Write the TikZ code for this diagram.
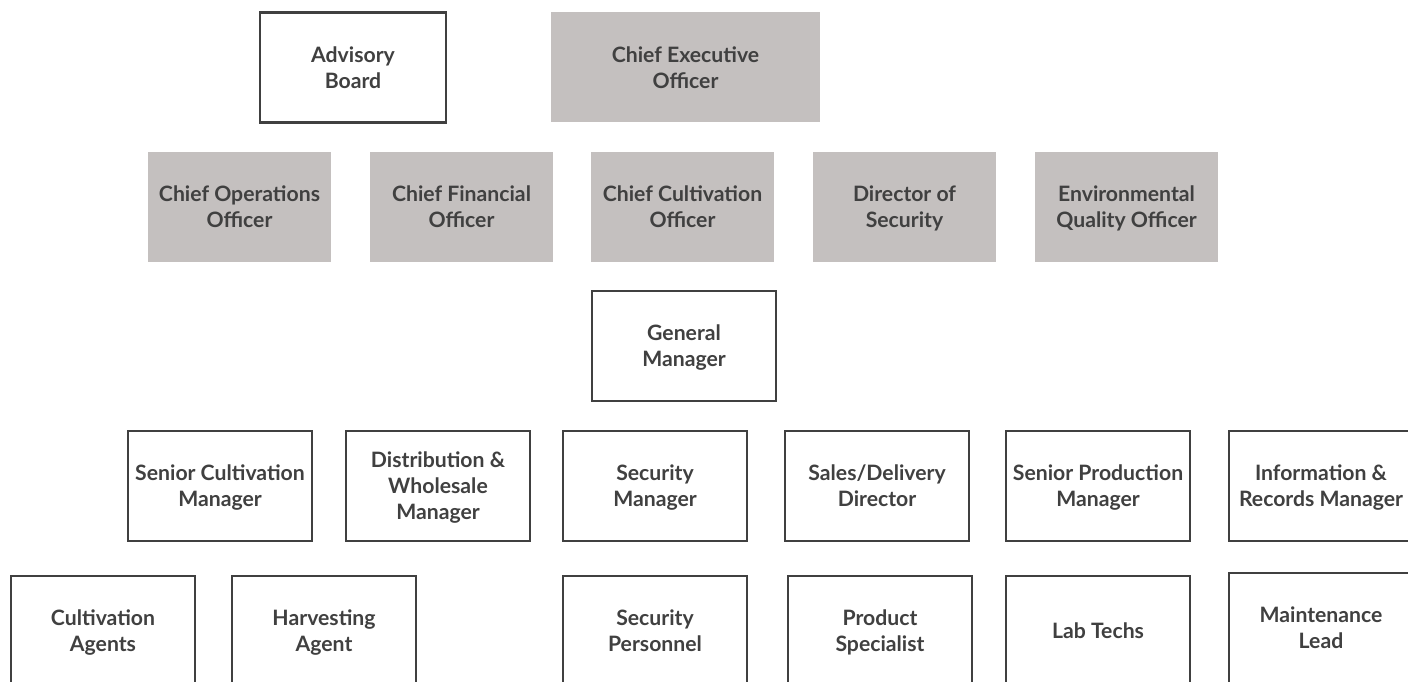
\documentclass[tikz,border=0pt]{standalone}
\usepackage{fontspec}
\setmainfont{Lato}
\definecolor{inkgray}{HTML}{404040}
\definecolor{execgray}{HTML}{C4C0BF}
\newcommand\chartfont{\fontsize{15.9}{19.5}\selectfont\bfseries}
\tikzset{
  post/.style={draw=inkgray, line width=2.1pt, fill=white, text=inkgray,
    align=center, inner sep=0pt, font=\chartfont, text depth=0pt,
    minimum width=138pt, minimum height=82.5pt},
  chief/.style={post, draw=none, fill=execgray},
}
\begin{document}
\begin{tikzpicture}[x=0.75pt, y=-0.75pt]
      \useasboundingbox (0,0) rectangle (1408,681);
      \clip (0,0) rectangle (1408,681);
      % board and executive
      \draw
        (353,67.5) node[post, minimum width=139.5pt] (board){Advisory\\Board}
        (685.5,67.5) node[chief, minimum width=201.75pt] (ceo){Chief Executive\\Officer};
      % officers
      \draw
        (239.5,207) node[chief, minimum width=137.25pt] (coo){Chief Operations\\Officer}
        (461.5,207) node[chief, minimum width=137.25pt] (cfo){Chief Financial\\Officer}
        (682.5,207) node[chief, minimum width=137.25pt] (cco){Chief Cultivation\\Officer}
        (904.5,207) node[chief, minimum width=137.25pt] (dos){Director of\\Security}
        (1126.5,207) node[chief, minimum width=137.25pt] (eqo){Environmental\\Quality Officer};
      \draw
        (684,346) node[post] (gm){General\\Manager};
      % managers
      \draw
        (220,486) node[post] (scm){Senior Cultivation\\Manager}
        (438,486) node[post] (dwm){Distribution \&\\Wholesale\\Manager}
        (655,486) node[post] (sm){Security\\Manager}
        (877,486) node[post] (sdd){Sales/Delivery\\Director}
        (1098,486) node[post] (spm){Senior Production\\Manager}
        (1321,486) node[post] (irm){Information \&\\Records Manager};
      % staff
      \draw
        (103,631) node[post] (ca){Cultivation\\Agents}
        (324,631) node[post] (ha){Harvesting\\Agent}
        (655,631) node[post] (sp){Security\\Personnel}
        (880,631) node[post] (ps){Product\\Specialist}
        (1098,631) node[post] (lt){Lab Techs}
        (1321,628) node[post] (ml){Maintenance\\Lead};
    \end{tikzpicture}
\end{document}
